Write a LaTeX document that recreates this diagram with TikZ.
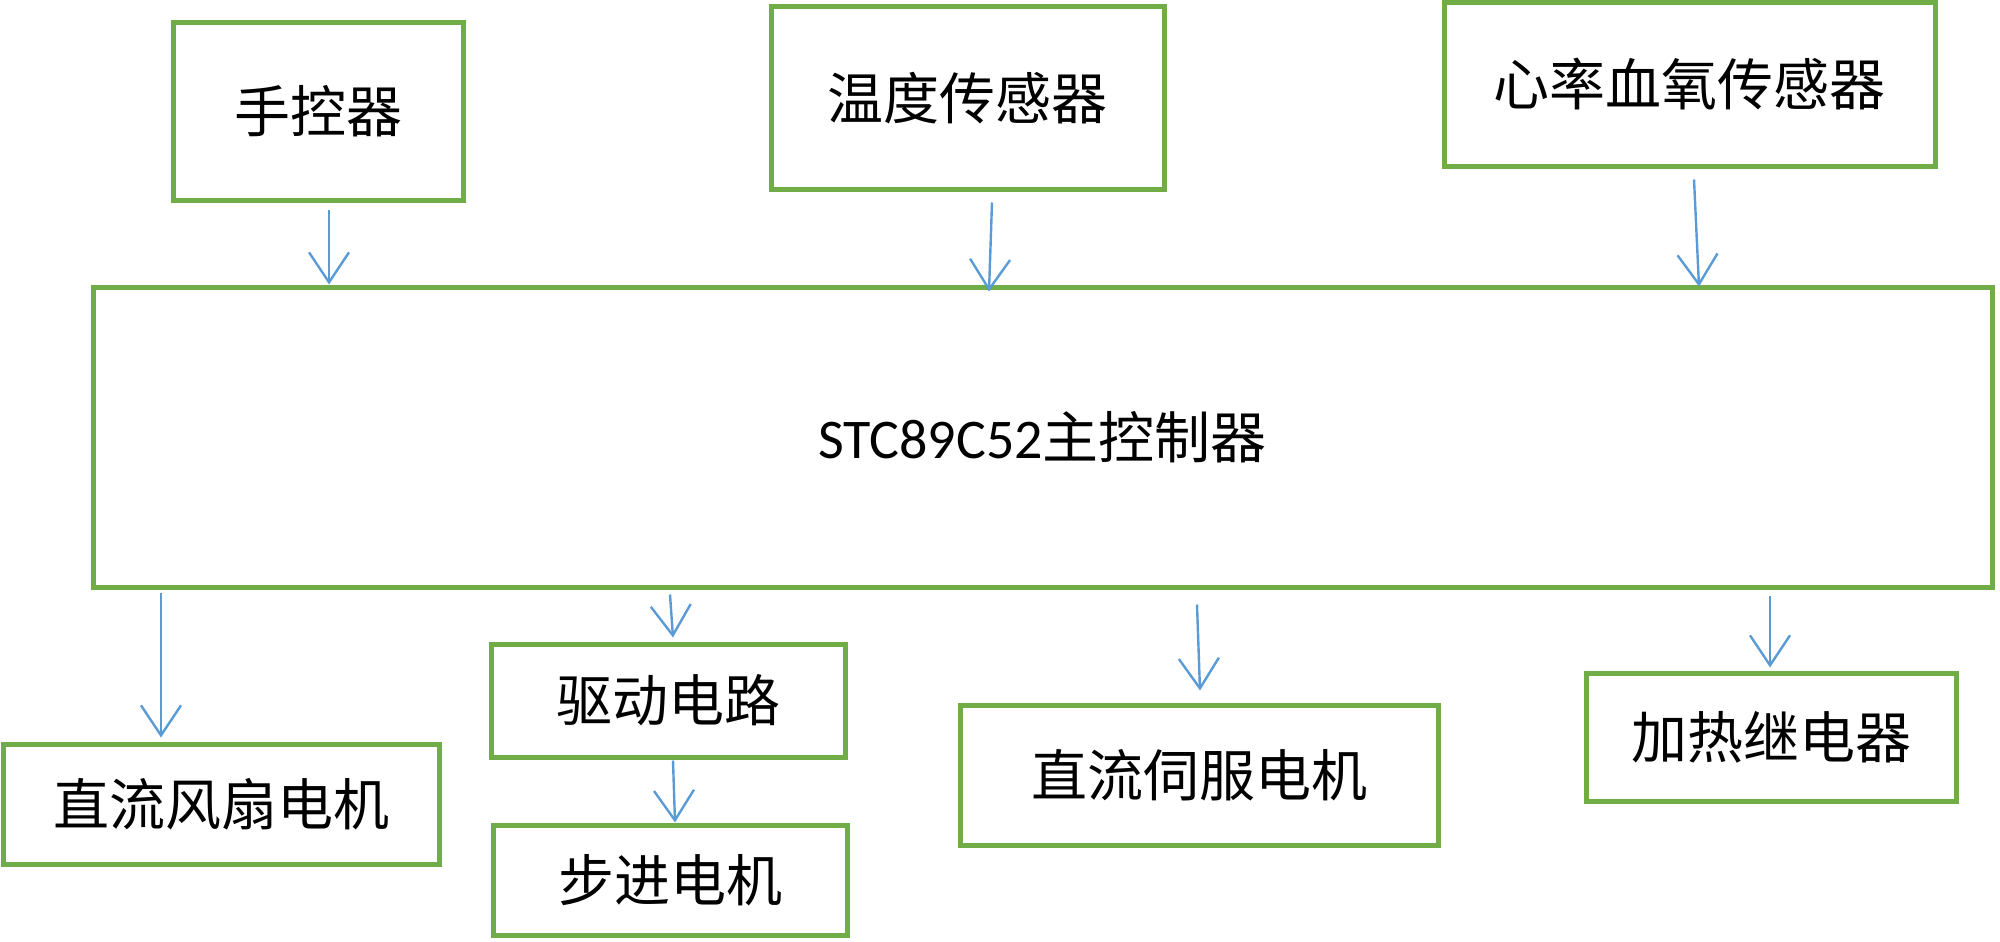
\documentclass[tikz,border=0pt]{standalone}
\usepackage{fontspec}
\setmainfont{Carlito}
\newfontfamily\cjk{Noto Sans CJK SC}
\usetikzlibrary{arrows.meta}
\definecolor{boxgreen}{RGB}{112,173,71}
\definecolor{arrowblue}{RGB}{91,155,213}
\begin{document}
\begin{tikzpicture}[x=1pt,y=-1pt,
  blk/.style={draw=boxgreen, line width=5pt, rectangle, inner sep=0pt, fill=white,
    font=\fontsize{56}{60}\selectfont\cjk, text=black},
  arr/.style={draw=arrowblue, line width=2.4pt, -{Straight Barb[length=30pt,width=40pt]}}]
\useasboundingbox (0,0) rectangle (2000,942);
% input boxes
\node[blk, minimum width=290pt, minimum height=177pt] (hand) at (318,111.5) {手控器};
\node[blk, minimum width=393pt, minimum height=182pt] (temp) at (967.5,98) {温度传感器};
\node[blk, minimum width=491pt, minimum height=163pt] (heart) at (1689.5,84.5) {心率血氧传感器};
% main controller
\node[blk, minimum width=1899pt, minimum height=300pt] (main) at (1042.5,437)
  {\raisebox{-6pt}{{\fontspec{Carlito}STC89C52}主控制器}};
% output boxes
\node[blk, minimum width=436pt, minimum height=120pt] (fan) at (221,804) {直流风扇电机};
\node[blk, minimum width=354pt, minimum height=113pt] (drive) at (668,700.5) {驱动电路};
\node[blk, minimum width=354pt, minimum height=110pt] (step) at (670,880) {步进电机};
\node[blk, minimum width=478pt, minimum height=140pt] (servo) at (1199,775) {直流伺服电机};
\node[blk, minimum width=370pt, minimum height=128pt] (heat) at (1771,737) {加热继电器};
% connectors
\draw[arr] ([xshift=11pt,yshift=-7pt]hand.south) -- ([xshift=-713.5pt]main.north);
\draw[arr] ([xshift=24.5pt,yshift=-11pt]temp.south) -- ([xshift=-53.5pt,yshift=-7pt]main.north);
\draw[arr] ([xshift=4.5pt,yshift=-11pt]heart.south) -- ([xshift=656.5pt,yshift=-2pt]main.north);
\draw[arr] ([xshift=-881.5pt,yshift=-3pt]main.south) -- ([xshift=-60pt,yshift=4pt]fan.north);
\draw[arr] ([xshift=-372.5pt,yshift=-5pt]main.south) -- ([xshift=5pt,yshift=4pt]drive.north);
\draw[arr] ([xshift=5pt,yshift=-1pt]drive.south) -- ([xshift=5pt]step.north);
\draw[arr] ([xshift=154.5pt,yshift=-15pt]main.south) -- ([xshift=1pt,yshift=12pt]servo.north);
\draw[arr] ([xshift=727.5pt,yshift=-6pt]main.south) -- ([xshift=-1pt,yshift=3pt]heat.north);
\end{tikzpicture}
\end{document}
